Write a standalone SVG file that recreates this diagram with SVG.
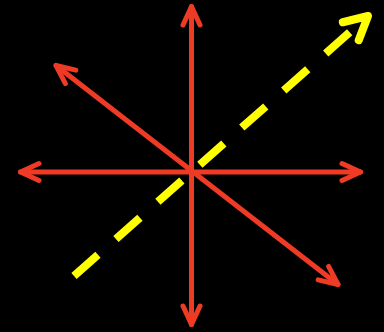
<svg xmlns="http://www.w3.org/2000/svg" width="384" height="332" viewBox="0 0 384 332">
  <defs>
    <style>
      .red { stroke: #ef3b26; stroke-width: 5; fill: none; stroke-linecap: round; stroke-linejoin: round; }
      .yellow { stroke: #ffff00; stroke-width: 8; fill: none; stroke-dasharray: 32 24; stroke-linecap: butt; }
    </style>
    <marker id="redHead" markerUnits="userSpaceOnUse" markerWidth="40" markerHeight="40" refX="0" refY="0" orient="auto-start-reverse" overflow="visible" viewBox="-30 -20 40 40">
      <path d="M -18.5 -8.5 L 0 0 L -18.5 8.5" fill="none" stroke="#ef3b26" stroke-width="5" stroke-linecap="round" stroke-linejoin="round"/>
    </marker>
    <marker id="yellowHead" markerUnits="userSpaceOnUse" markerWidth="60" markerHeight="60" refX="0" refY="0" orient="auto" overflow="visible" viewBox="-40 -30 60 60">
      <path d="M -23 -12 L 0 0 L -23 12" fill="none" stroke="#ffff00" stroke-width="8" stroke-linecap="round" stroke-linejoin="round"/>
    </marker>
  </defs>
  <rect x="0" y="0" width="384" height="332" fill="#000000"/>
  <g id="connectors">
    <line id="vertical" class="red" x1="191.5" y1="6.5" x2="191.5" y2="324.5" marker-start="url(#redHead)" marker-end="url(#redHead)"/>
    <line id="horizontal" class="red" x1="20.5" y1="172" x2="360.5" y2="172" marker-start="url(#redHead)" marker-end="url(#redHead)"/>
    <line id="diagonal" class="red" x1="56" y1="65.5" x2="338" y2="284.5" marker-start="url(#redHead)" marker-end="url(#redHead)"/>
    <line id="dashed" class="yellow" x1="74" y1="276" x2="368" y2="16" marker-end="url(#yellowHead)"/>
  </g>
</svg>
